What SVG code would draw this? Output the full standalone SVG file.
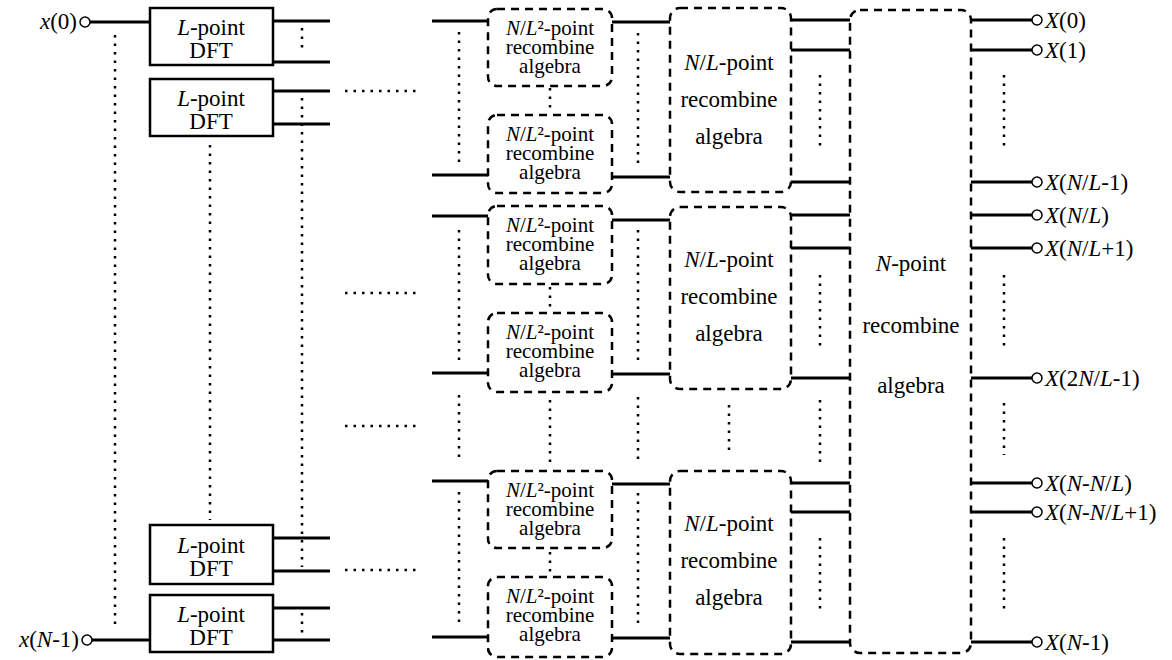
<svg xmlns="http://www.w3.org/2000/svg" width="1172" height="660" viewBox="0 0 1172 660">
<rect width="1172" height="660" fill="#fff"/>
<g id="connectors" fill="none" stroke="#000">
<path stroke-width="3" d="M90,22H150 M92,640H150
M273,21H330 M273,62H330 M273,91H330 M273,124H330 M273,538H330 M273,571H330 M273,608H330 M273,640H330
M432,21H488 M432,175H488 M432,216H488 M432,373H488 M432,481H488 M432,637H488
M612,22H670 M612,177H670 M612,220H670 M612,374H670 M612,484H670 M612,638H670
M791,20H850 M791,50H850 M791,182H850 M791,215H850 M791,248H850 M791,378H850 M791,483H850 M791,512H850 M791,642H850
M971,20H1032 M971,50H1032 M971,182H1032 M971,215H1032 M971,248H1032 M971,378H1032 M971,483H1032 M971,512H1032 M971,642H1032"/>
<path stroke-width="2.5" stroke-dasharray="2.5 6" d="M115,35V629 M210,145V520 M302,28V52 M302,98V567 M302,613V635
M345,91H418 M345,293H418 M345,426H418 M345,570H418
M459,32V165 M459,230V362 M459,395V460 M459,492V625
M550,88V113 M550,287V310 M550,400V463 M550,552V573
M638,33V165 M638,230V363 M638,397V460 M638,493V627
M729,405V455
M820,75V148 M820,275V348 M820,400V463 M820,538V610
M1004,75V148 M1004,275V348 M1004,403V455 M1004,538V612"/>
</g>
<g id="in0"><circle cx="85" cy="22" r="5" fill="#fff" stroke="#000" stroke-width="1.5"/><text x="77" y="29" font-family="Liberation Serif" font-size="23" text-anchor="end"><tspan font-style="italic">x</tspan>(0)</text></g>
<g id="inN1"><circle cx="87" cy="640" r="5" fill="#fff" stroke="#000" stroke-width="1.5"/><text x="79" y="647" font-family="Liberation Serif" font-size="23" text-anchor="end"><tspan font-style="italic">x</tspan>(<tspan font-style="italic">N</tspan>-1)</text></g>
<g id="dft1"><rect x="150" y="8" width="123" height="57" fill="#fff" stroke="#000" stroke-width="2.5"/><text x="211" y="35" font-family="Liberation Serif" font-size="23" text-anchor="middle"><tspan font-style="italic">L</tspan>-point</text><text x="211" y="58" font-family="Liberation Serif" font-size="23" text-anchor="middle">DFT</text></g>
<g id="dft2"><rect x="150" y="79" width="123" height="57" fill="#fff" stroke="#000" stroke-width="2.5"/><text x="211" y="106" font-family="Liberation Serif" font-size="23" text-anchor="middle"><tspan font-style="italic">L</tspan>-point</text><text x="211" y="129" font-family="Liberation Serif" font-size="23" text-anchor="middle">DFT</text></g>
<g id="dft3"><rect x="150" y="525" width="123" height="59" fill="#fff" stroke="#000" stroke-width="2.5"/><text x="211" y="553" font-family="Liberation Serif" font-size="23" text-anchor="middle"><tspan font-style="italic">L</tspan>-point</text><text x="211" y="576" font-family="Liberation Serif" font-size="23" text-anchor="middle">DFT</text></g>
<g id="dft4"><rect x="150" y="595" width="123" height="57" fill="#fff" stroke="#000" stroke-width="2.5"/><text x="211" y="622" font-family="Liberation Serif" font-size="23" text-anchor="middle"><tspan font-style="italic">L</tspan>-point</text><text x="211" y="645" font-family="Liberation Serif" font-size="23" text-anchor="middle">DFT</text></g>
<g id="nl2_1"><rect x="488" y="9" width="124" height="77" rx="9" fill="none" stroke="#000" stroke-width="2.5" stroke-dasharray="8 6"/><text x="550" y="35" font-family="Liberation Serif" font-size="21" text-anchor="middle"><tspan font-style="italic">N</tspan>/<tspan font-style="italic">L</tspan>²-point</text><text x="550" y="54" font-family="Liberation Serif" font-size="21" text-anchor="middle">recombine</text><text x="550" y="73" font-family="Liberation Serif" font-size="21" text-anchor="middle">algebra</text></g>
<g id="nl2_2"><rect x="488" y="115" width="124" height="78" rx="9" fill="none" stroke="#000" stroke-width="2.5" stroke-dasharray="8 6"/><text x="550" y="141" font-family="Liberation Serif" font-size="21" text-anchor="middle"><tspan font-style="italic">N</tspan>/<tspan font-style="italic">L</tspan>²-point</text><text x="550" y="160" font-family="Liberation Serif" font-size="21" text-anchor="middle">recombine</text><text x="550" y="179" font-family="Liberation Serif" font-size="21" text-anchor="middle">algebra</text></g>
<g id="nl2_3"><rect x="488" y="206" width="124" height="78" rx="9" fill="none" stroke="#000" stroke-width="2.5" stroke-dasharray="8 6"/><text x="550" y="232" font-family="Liberation Serif" font-size="21" text-anchor="middle"><tspan font-style="italic">N</tspan>/<tspan font-style="italic">L</tspan>²-point</text><text x="550" y="251" font-family="Liberation Serif" font-size="21" text-anchor="middle">recombine</text><text x="550" y="270" font-family="Liberation Serif" font-size="21" text-anchor="middle">algebra</text></g>
<g id="nl2_4"><rect x="488" y="313" width="124" height="79" rx="9" fill="none" stroke="#000" stroke-width="2.5" stroke-dasharray="8 6"/><text x="550" y="339" font-family="Liberation Serif" font-size="21" text-anchor="middle"><tspan font-style="italic">N</tspan>/<tspan font-style="italic">L</tspan>²-point</text><text x="550" y="358" font-family="Liberation Serif" font-size="21" text-anchor="middle">recombine</text><text x="550" y="377" font-family="Liberation Serif" font-size="21" text-anchor="middle">algebra</text></g>
<g id="nl2_5"><rect x="488" y="471" width="124" height="77" rx="9" fill="none" stroke="#000" stroke-width="2.5" stroke-dasharray="8 6"/><text x="550" y="497" font-family="Liberation Serif" font-size="21" text-anchor="middle"><tspan font-style="italic">N</tspan>/<tspan font-style="italic">L</tspan>²-point</text><text x="550" y="516" font-family="Liberation Serif" font-size="21" text-anchor="middle">recombine</text><text x="550" y="535" font-family="Liberation Serif" font-size="21" text-anchor="middle">algebra</text></g>
<g id="nl2_6"><rect x="488" y="577" width="124" height="80" rx="9" fill="none" stroke="#000" stroke-width="2.5" stroke-dasharray="8 6"/><text x="550" y="603" font-family="Liberation Serif" font-size="21" text-anchor="middle"><tspan font-style="italic">N</tspan>/<tspan font-style="italic">L</tspan>²-point</text><text x="550" y="622" font-family="Liberation Serif" font-size="21" text-anchor="middle">recombine</text><text x="550" y="641" font-family="Liberation Serif" font-size="21" text-anchor="middle">algebra</text></g>
<g id="nl_1"><rect x="670" y="8" width="121" height="184" rx="10" fill="none" stroke="#000" stroke-width="2.5" stroke-dasharray="8 6"/><text x="729" y="70" font-family="Liberation Serif" font-size="23" text-anchor="middle"><tspan font-style="italic">N</tspan>/<tspan font-style="italic">L</tspan>-point</text><text x="729" y="107" font-family="Liberation Serif" font-size="23" text-anchor="middle">recombine</text><text x="729" y="144" font-family="Liberation Serif" font-size="23" text-anchor="middle">algebra</text></g>
<g id="nl_2"><rect x="670" y="207" width="121" height="182" rx="10" fill="none" stroke="#000" stroke-width="2.5" stroke-dasharray="8 6"/><text x="729" y="267" font-family="Liberation Serif" font-size="23" text-anchor="middle"><tspan font-style="italic">N</tspan>/<tspan font-style="italic">L</tspan>-point</text><text x="729" y="304" font-family="Liberation Serif" font-size="23" text-anchor="middle">recombine</text><text x="729" y="341" font-family="Liberation Serif" font-size="23" text-anchor="middle">algebra</text></g>
<g id="nl_3"><rect x="670" y="471" width="121" height="183" rx="10" fill="none" stroke="#000" stroke-width="2.5" stroke-dasharray="8 6"/><text x="729" y="531" font-family="Liberation Serif" font-size="23" text-anchor="middle"><tspan font-style="italic">N</tspan>/<tspan font-style="italic">L</tspan>-point</text><text x="729" y="568" font-family="Liberation Serif" font-size="23" text-anchor="middle">recombine</text><text x="729" y="605" font-family="Liberation Serif" font-size="23" text-anchor="middle">algebra</text></g>
<g id="npoint"><rect x="850" y="10" width="121" height="643" rx="10" fill="none" stroke="#000" stroke-width="2.5" stroke-dasharray="8 6"/><text x="911" y="271" font-family="Liberation Serif" font-size="23" text-anchor="middle"><tspan font-style="italic">N</tspan>-point</text><text x="911" y="333" font-family="Liberation Serif" font-size="23" text-anchor="middle">recombine</text><text x="911" y="393" font-family="Liberation Serif" font-size="23" text-anchor="middle">algebra</text></g>
<g id="outputs">
<g fill="#fff" stroke="#000" stroke-width="1.5"><circle cx="1037" cy="20" r="5"/><circle cx="1037" cy="50" r="5"/><circle cx="1037" cy="182" r="5"/><circle cx="1037" cy="215" r="5"/><circle cx="1037" cy="248" r="5"/><circle cx="1037" cy="378" r="5"/><circle cx="1037" cy="483" r="5"/><circle cx="1037" cy="512" r="5"/><circle cx="1037" cy="642" r="5"/></g>
<text x="1045" y="28" font-family="Liberation Serif" font-size="23"><tspan font-style="italic">X</tspan>(0)</text>
<text x="1045" y="58" font-family="Liberation Serif" font-size="23"><tspan font-style="italic">X</tspan>(1)</text>
<text x="1045" y="190" font-family="Liberation Serif" font-size="23"><tspan font-style="italic">X</tspan>(<tspan font-style="italic">N</tspan>/<tspan font-style="italic">L</tspan>-1)</text>
<text x="1045" y="223" font-family="Liberation Serif" font-size="23"><tspan font-style="italic">X</tspan>(<tspan font-style="italic">N</tspan>/<tspan font-style="italic">L</tspan>)</text>
<text x="1045" y="256" font-family="Liberation Serif" font-size="23"><tspan font-style="italic">X</tspan>(<tspan font-style="italic">N</tspan>/<tspan font-style="italic">L</tspan>+1)</text>
<text x="1045" y="386" font-family="Liberation Serif" font-size="23"><tspan font-style="italic">X</tspan>(2<tspan font-style="italic">N</tspan>/<tspan font-style="italic">L</tspan>-1)</text>
<text x="1045" y="491" font-family="Liberation Serif" font-size="23"><tspan font-style="italic">X</tspan>(<tspan font-style="italic">N</tspan>-<tspan font-style="italic">N</tspan>/<tspan font-style="italic">L</tspan>)</text>
<text x="1045" y="520" font-family="Liberation Serif" font-size="23"><tspan font-style="italic">X</tspan>(<tspan font-style="italic">N</tspan>-<tspan font-style="italic">N</tspan>/<tspan font-style="italic">L</tspan>+1)</text>
<text x="1045" y="650" font-family="Liberation Serif" font-size="23"><tspan font-style="italic">X</tspan>(<tspan font-style="italic">N</tspan>-1)</text>
</g>
</svg>
